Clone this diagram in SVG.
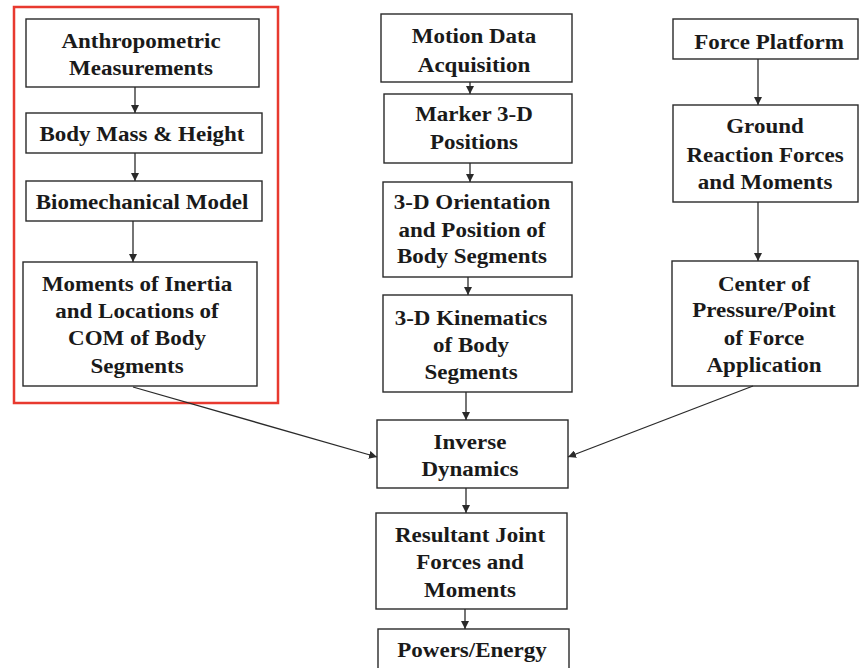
<svg xmlns="http://www.w3.org/2000/svg" width="859" height="668" viewBox="0 0 859 668">
  <style>
    .box { fill: #ffffff; stroke: #2a2a2a; stroke-width: 1.4; }
    .lbl { font-family: "Liberation Serif", "Times New Roman", serif; font-weight: bold; font-size: 21.5px; fill: #1a1a1a; text-anchor: middle; }
    .edge { fill: none; stroke: #2a2a2a; stroke-width: 1.3; marker-end: url(#arrow); }
    .frame { fill: none; stroke: #e8392f; stroke-width: 2.5; }
  </style>
  <defs>
    <marker id="arrow" viewBox="0 0 10 10" refX="10" refY="5" markerWidth="8" markerHeight="8" markerUnits="userSpaceOnUse" orient="auto">
      <path d="M0,0 L10,5 L0,10 z" fill="#2a2a2a"/>
    </marker>
  </defs>
  <rect width="859" height="668" fill="#ffffff"/>

  <!-- highlight around the body-segment parameter branch -->
  <rect class="frame" x="14" y="7" width="264" height="396"/>

  <!-- left column -->
  <g id="anthropometric">
    <rect class="box" x="26" y="19" width="233" height="68"/>
    <text class="lbl" transform="translate(141,0) scale(1.07,1)"><tspan x="0" y="48">Anthropometric</tspan><tspan x="0" y="75">Measurements</tspan></text>
  </g>
  <g id="body-mass">
    <rect class="box" x="26" y="113" width="236" height="40"/>
    <text class="lbl" transform="translate(142,0) scale(1.07,1)"><tspan x="0" y="141">Body Mass &amp; Height</tspan></text>
  </g>
  <g id="biomech-model">
    <rect class="box" x="26" y="181" width="236" height="40"/>
    <text class="lbl" transform="translate(142,0) scale(1.07,1)"><tspan x="0" y="209">Biomechanical Model</tspan></text>
  </g>
  <g id="inertia">
    <rect class="box" x="23" y="262" width="234" height="124"/>
    <text class="lbl" transform="translate(137,0) scale(1.07,1)"><tspan x="0" y="291">Moments of Inertia</tspan><tspan x="0" y="318">and Locations of</tspan><tspan x="0" y="345">COM of Body</tspan><tspan x="0" y="373">Segments</tspan></text>
  </g>

  <!-- middle column -->
  <g id="motion-data">
    <rect class="box" x="381" y="14" width="191" height="68"/>
    <text class="lbl" transform="translate(474,0) scale(1.07,1)"><tspan x="0" y="43">Motion Data</tspan><tspan x="0" y="72">Acquisition</tspan></text>
  </g>
  <g id="marker-positions">
    <rect class="box" x="384" y="94" width="188" height="69"/>
    <text class="lbl" transform="translate(474,0) scale(1.07,1)"><tspan x="0" y="121">Marker 3-D</tspan><tspan x="0" y="149">Positions</tspan></text>
  </g>
  <g id="orientation">
    <rect class="box" x="383" y="182" width="189" height="95"/>
    <text class="lbl" transform="translate(472,0) scale(1.07,1)"><tspan x="0" y="209">3-D Orientation</tspan><tspan x="0" y="237">and Position of</tspan><tspan x="0" y="263">Body Segments</tspan></text>
  </g>
  <g id="kinematics">
    <rect class="box" x="383" y="295" width="189" height="97"/>
    <text class="lbl" transform="translate(471,0) scale(1.07,1)"><tspan x="0" y="325">3-D Kinematics</tspan><tspan x="0" y="352">of Body</tspan><tspan x="0" y="379">Segments</tspan></text>
  </g>
  <g id="inverse-dynamics">
    <rect class="box" x="377" y="420" width="191" height="68"/>
    <text class="lbl" transform="translate(470,0) scale(1.07,1)"><tspan x="0" y="449">Inverse</tspan><tspan x="0" y="476">Dynamics</tspan></text>
  </g>
  <g id="joint-forces">
    <rect class="box" x="376" y="513" width="191" height="96"/>
    <text class="lbl" transform="translate(470,0) scale(1.07,1)"><tspan x="0" y="542">Resultant Joint</tspan><tspan x="0" y="569">Forces and</tspan><tspan x="0" y="597">Moments</tspan></text>
  </g>
  <g id="powers">
    <rect class="box" x="378" y="629" width="191" height="50"/>
    <text class="lbl" transform="translate(472,0) scale(1.07,1)"><tspan x="0" y="657">Powers/Energy</tspan></text>
  </g>

  <!-- right column -->
  <g id="force-platform">
    <rect class="box" x="673" y="19" width="185" height="40"/>
    <text class="lbl" transform="translate(769,0) scale(1.07,1)"><tspan x="0" y="49">Force Platform</tspan></text>
  </g>
  <g id="grf">
    <rect class="box" x="673" y="105" width="185" height="97"/>
    <text class="lbl" transform="translate(765,0) scale(1.07,1)"><tspan x="0" y="133">Ground</tspan><tspan x="0" y="162">Reaction Forces</tspan><tspan x="0" y="189">and Moments</tspan></text>
  </g>
  <g id="cop">
    <rect class="box" x="672" y="261" width="186" height="125"/>
    <text class="lbl" transform="translate(764,0) scale(1.07,1)"><tspan x="0" y="291">Center of</tspan><tspan x="0" y="317">Pressure/Point</tspan><tspan x="0" y="345">of Force</tspan><tspan x="0" y="372">Application</tspan></text>
  </g>

  <!-- connectors -->
  <g id="connectors">
    <line class="edge" x1="135" y1="87" x2="135" y2="113"/>
    <line class="edge" x1="135" y1="153" x2="135" y2="181"/>
    <line class="edge" x1="133" y1="221" x2="133" y2="262"/>
    <line class="edge" x1="470" y1="82" x2="470" y2="94"/>
    <line class="edge" x1="470" y1="163" x2="470" y2="182"/>
    <line class="edge" x1="468" y1="277" x2="468" y2="295"/>
    <line class="edge" x1="466" y1="392" x2="466" y2="420"/>
    <line class="edge" x1="466" y1="488" x2="466" y2="513"/>
    <line class="edge" x1="465" y1="609" x2="465" y2="629"/>
    <line class="edge" x1="758" y1="59" x2="758" y2="105"/>
    <line class="edge" x1="758" y1="202" x2="758" y2="261"/>
    <line class="edge" x1="133" y1="387" x2="377" y2="457"/>
    <line class="edge" x1="753" y1="386" x2="568" y2="457"/>
  </g>
</svg>
